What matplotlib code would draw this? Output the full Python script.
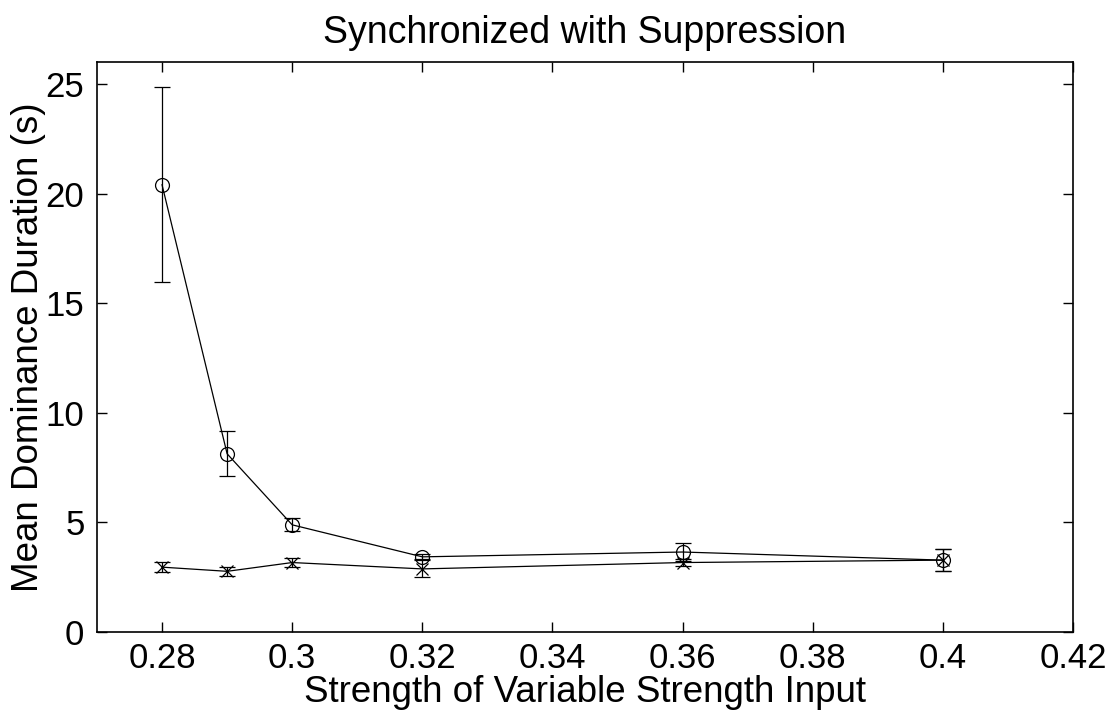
import matplotlib
matplotlib.use("Agg")
import matplotlib.pyplot as plt

plt.rcParams['font.family'] = ['Liberation Sans', 'DejaVu Sans']

x = [0.28, 0.29, 0.30, 0.32, 0.36, 0.40]
circle_mean = [20.4, 8.13, 4.89, 3.43, 3.65, 3.28]
circle_lo = [15.95, 7.11, 4.61, 3.30, 3.23, 2.77]
circle_hi = [24.86, 9.16, 5.19, 3.55, 4.07, 3.77]
cross_mean = [2.96, 2.77, 3.17, 2.88, 3.17, 3.28]
cross_lo = [2.74, 2.57, 2.97, 2.51, 3.00, 2.77]
cross_hi = [3.18, 2.95, 3.37, 3.33, 3.32, 3.77]

xticks = [0.28, 0.3, 0.32, 0.34, 0.36, 0.38, 0.4, 0.42]
xticklabels = ['0.28', '0.3', '0.32', '0.34', '0.36', '0.38', '0.4', '0.42']
yticks = [0, 5, 10, 15, 20, 25]

fig = plt.figure(figsize=(11.12, 7.24), dpi=100)
ax = fig.add_axes([0.0872, 0.127, 0.965 - 0.0872, 0.9144 - 0.127])

def err(m, lo, hi):
    return [[a - b for a, b in zip(m, lo)], [c - a for a, c in zip(m, hi)]]

ax.errorbar(x, circle_mean, yerr=err(circle_mean, circle_lo, circle_hi),
            color='black', marker='o', markersize=10, markerfacecolor='none',
            markeredgewidth=0.9, linewidth=0.9, elinewidth=0.9, capsize=6,
            capthick=0.9)
ax.errorbar(x, cross_mean, yerr=err(cross_mean, cross_lo, cross_hi),
            color='black', marker='x', markersize=9, markeredgewidth=0.9,
            linewidth=0.9, elinewidth=0.9, capsize=6, capthick=0.9)

ax.set_xlim(0.27, 0.42)
ax.set_ylim(0, 26)
ax.set_xticks(xticks)
ax.set_xticklabels(xticklabels)
ax.set_yticks(yticks)
ax.tick_params(direction='in', top=True, right=True, length=7, width=1,
               labelsize=25)
ax.tick_params(axis='x', pad=7)
ax.tick_params(axis='y', pad=9)
for s in ax.spines.values():
    s.set_linewidth(1.2)

ax.set_xlabel('Strength of Variable Strength Input', fontsize=26.5, labelpad=0)
ax.set_ylabel('Mean Dominance Duration (s)', fontsize=26.5, labelpad=0)
ax.set_title('Synchronized with Suppression', fontsize=27, pad=14)

fig.savefig('out.png', dpi=100)
